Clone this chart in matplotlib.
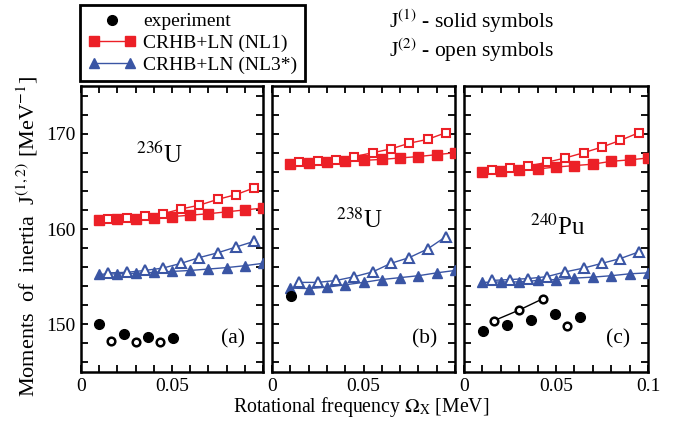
import matplotlib
matplotlib.use("Agg")
import matplotlib.pyplot as plt
from matplotlib.legend_handler import HandlerLine2D
from matplotlib.ticker import MultipleLocator, FixedLocator

plt.rcParams["font.family"] = ["Liberation Serif", "DejaVu Serif"]
plt.rcParams["mathtext.fontset"] = "stix"

RED = "#ec2027"
BLUE = "#3a55a4"

# omega grids (MeV): J1 on full steps, J2 on midpoints
om_j1 = [0.01, 0.02, 0.03, 0.04, 0.05, 0.06, 0.07, 0.08, 0.09, 0.10]
om_j2 = [0.015, 0.025, 0.035, 0.045, 0.055, 0.065, 0.075, 0.085, 0.095]

# 236U
u236_nl1_j1 = [160.9, 161.0, 161.1, 161.2, 161.3, 161.45, 161.6, 161.8, 162.0, 162.2]
u236_nl1_j2 = [161.0, 161.2, 161.35, 161.6, 162.1, 162.5, 163.1, 163.6, 164.3]
u236_nl3_j1 = [155.25, 155.3, 155.35, 155.45, 155.55, 155.65, 155.8, 155.95, 156.15, 156.4]
u236_nl3_j2 = [155.4, 155.45, 155.65, 155.9, 156.4, 157.0, 157.5, 158.1, 158.7]
u236_exp_om1 = [0.0101, 0.0238, 0.037, 0.0507]
u236_exp_j1 = [150.0, 149.0, 148.7, 148.6]
u236_exp_om2 = [0.0165, 0.030, 0.0435]
u236_exp_j2 = [148.2, 148.1, 148.1]

# 238U
u238_nl1_j1 = [166.85, 166.95, 167.0, 167.1, 167.2, 167.3, 167.45, 167.6, 167.8, 168.0]
u238_nl1_j2 = [167.0, 167.1, 167.25, 167.6, 168.0, 168.4, 169.0, 169.4, 170.1]
u238_nl3_j1 = [153.8, 153.75, 153.9, 154.15, 154.4, 154.7, 154.9, 155.1, 155.4, 155.65]
u238_nl3_j2 = [154.4, 154.4, 154.6, 155.0, 155.5, 156.4, 157.0, 157.9, 159.2]
u238_exp_om1 = [0.0102]
u238_exp_j1 = [153.0]
u238_exp_om2 = []
u238_exp_j2 = []

# 240Pu
pu240_nl1_j1 = [166.0, 166.05, 166.2, 166.3, 166.5, 166.65, 166.8, 167.1, 167.25, 167.45]
pu240_nl1_j2 = [166.2, 166.4, 166.6, 167.0, 167.45, 168.0, 168.6, 169.3, 170.1]
pu240_nl3_j1 = [154.4, 154.45, 154.45, 154.6, 154.7, 154.85, 154.95, 155.1, 155.3, 155.4]
pu240_nl3_j2 = [154.6, 154.7, 154.8, 155.0, 155.5, 155.9, 156.4, 156.9, 157.6]
pu240_exp_om1 = [0.0101, 0.0235, 0.0362, 0.0495, 0.063]
pu240_exp_j1 = [149.3, 149.9, 150.5, 151.1, 150.8]
pu240_exp_om2 = [0.0165, 0.030, 0.043, 0.056]
pu240_exp_j2 = [150.4, 151.5, 152.7, 149.8]

panels = [
    ("(a)", r"$^{236}$U", (0.043, 167.7),
     u236_nl1_j1, u236_nl1_j2, u236_nl3_j1, u236_nl3_j2,
     u236_exp_om1, u236_exp_j1, u236_exp_om2, u236_exp_j2),
    ("(b)", r"$^{238}$U", (0.048, 160.9),
     u238_nl1_j1, u238_nl1_j2, u238_nl3_j1, u238_nl3_j2,
     u238_exp_om1, u238_exp_j1, u238_exp_om2, u238_exp_j2),
    ("(c)", r"$^{240}$Pu", (0.051, 160.2),
     pu240_nl1_j1, pu240_nl1_j2, pu240_nl3_j1, pu240_nl3_j2,
     pu240_exp_om1, pu240_exp_j1, pu240_exp_om2, pu240_exp_j2),
]

W, H = 681, 422
fig = plt.figure(figsize=(W / 100, H / 100), dpi=100)

lefts = [81, 272, 464]
widths = [182, 183, 184]
top, bottom = 86, 372

handles = None
for i, (tag, nuc, nucpos, nl1a, nl1b, nl3a, nl3b, eo1, ej1, eo2, ej2) in enumerate(panels):
    ax = fig.add_axes([lefts[i] / W, 1 - bottom / H, widths[i] / W, (bottom - top) / H])

    h_nl1, = ax.plot(om_j1, nl1a, "-", color=RED, lw=1.0, marker="s", ms=6.5,
                     mfc=RED, mec=RED, zorder=3)
    ax.plot(om_j2, nl1b, "-", color=RED, lw=1.0, marker="s", ms=5.5,
            mfc="white", mec=RED, mew=1.5, zorder=3)
    h_nl3, = ax.plot(om_j1, nl3a, "-", color=BLUE, lw=1.0, marker="^", ms=7,
                     mfc=BLUE, mec=BLUE, zorder=3)
    ax.plot(om_j2, nl3b, "-", color=BLUE, lw=1.0, marker="^", ms=6.5,
            mfc="white", mec=BLUE, mew=1.5, zorder=3)

    h_exp, = ax.plot(eo1, ej1, "o", color="black", ms=7, zorder=4)
    if tag == "(c)":
        # open points partly joined by a thin line
        ax.plot(eo2[:3], ej2[:3], "-", color="black", lw=1.0, zorder=3)
    if eo2:
        ax.plot(eo2, ej2, "o", ms=5.5, mfc="white", mec="black", mew=1.8, zorder=4)

    handles = (h_exp, h_nl1, h_nl3)

    ax.set_xlim(0, 0.1)
    ax.set_ylim(145, 175)
    ax.yaxis.set_major_locator(MultipleLocator(10))
    ax.yaxis.set_minor_locator(MultipleLocator(2))
    ax.xaxis.set_minor_locator(MultipleLocator(0.01))
    if tag == "(c)":
        ax.xaxis.set_major_locator(FixedLocator([0, 0.05, 0.1]))
        ax.set_xticklabels(["0", "0.05", "0.1"])
    else:
        ax.xaxis.set_major_locator(FixedLocator([0, 0.05]))
        ax.set_xticklabels(["0", "0.05"])
    ax.tick_params(which="both", direction="in", top=True, right=True,
                   length=5, width=1.3, labelsize=14, pad=4)
    if i > 0:
        ax.set_yticklabels([])
    for sp in ax.spines.values():
        sp.set_linewidth(1.8)

    ax.text(nucpos[0], nucpos[1], nuc, fontsize=18, ha="center", va="center")
    ax.text(0.0835, 148.5, tag, fontsize=15.5, ha="center", va="center")

leg = fig.legend(handles, ["experiment", "CRHB+LN (NL1)", "CRHB+LN (NL3*)"],
                 loc="upper left", bbox_to_anchor=(80 / W, 1 - 5 / H),
                 bbox_transform=fig.transFigure, borderaxespad=0,
                 fancybox=False, framealpha=1, edgecolor="black",
                 fontsize=14, handlelength=2.45, numpoints=2,
                 borderpad=0.4, labelspacing=0.2, handletextpad=0.4,
                 handler_map={handles[0]: HandlerLine2D(numpoints=1)})
leg.get_frame().set_linewidth(2.0)

fig.text(389 / W, 1 - 21 / H, r"J$^{(1)}$ - solid symbols", fontsize=15.5, va="center")
fig.text(389 / W, 1 - 50 / H, r"J$^{(2)}$ - open symbols", fontsize=15.5, va="center")

fig.text(27 / W, 1 - 236 / H, r"Moments  of  inertia  J$^{(1,2)}$ [MeV$^{-1}$]",
         fontsize=16, rotation=90, ha="center", va="center")
fig.text(361 / W, 1 - 407 / H, r"Rotational frequency $\Omega_\mathrm{X}$ [MeV]",
         fontsize=14.2, ha="center", va="center")

fig.savefig("out.png", dpi=100)
